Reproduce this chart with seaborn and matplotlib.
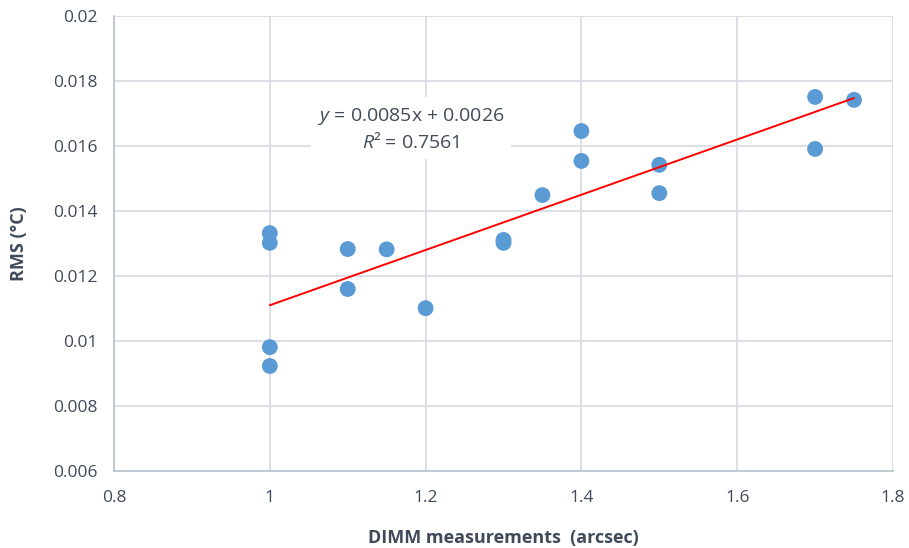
import numpy as np
import matplotlib
matplotlib.use("Agg")
import matplotlib.pyplot as plt
import seaborn as sns
import pandas as pd

dimm = [1.0, 1.0, 1.0, 1.0, 1.1, 1.1, 1.15, 1.2, 1.3, 1.3, 1.35, 1.4, 1.4, 1.5, 1.5, 1.7, 1.7, 1.75]
rms = [0.01332, 0.01302, 0.00981, 0.00923, 0.01283, 0.01160, 0.01282, 0.01101,
       0.01311, 0.01302, 0.01449, 0.01646, 0.01554, 0.01542, 0.01455, 0.01751, 0.01591, 0.01742]
slope = 0.0085
intercept = 0.0026
eq_text = "$y$ = 0.0085x + 0.0026"
r2_text = "$R$² = 0.7561"
xticks = [0.8, 1.0, 1.2, 1.4, 1.6, 1.8]
xticklabels = ["0.8", "1", "1.2", "1.4", "1.6", "1.8"]
yticks = [0.006, 0.008, 0.010, 0.012, 0.014, 0.016, 0.018, 0.020]
yticklabels = ["0.006", "0.008", "0.01", "0.012", "0.014", "0.016", "0.018", "0.02"]

df = pd.DataFrame({"DIMM": dimm, "RMS": rms})

sns.set_theme(style="white")
plt.rcParams["font.family"] = ["Open Sans", "DejaVu Sans"]
plt.rcParams["mathtext.fontset"] = "custom"
plt.rcParams["mathtext.it"] = "Open Sans:italic"
plt.rcParams["mathtext.rm"] = "Open Sans"

txt = "#404a5a"
fig = plt.figure(figsize=(9.09, 5.48), dpi=100)
ax = fig.add_axes([114/909, 1-471/548, (893-114)/909, (471-16)/548])

ax.set_xlim(0.8, 1.8)
ax.set_ylim(0.006, 0.02)
ax.set_xticks(xticks)
ax.set_xticklabels(xticklabels)
ax.set_yticks(yticks)
ax.set_yticklabels(yticklabels)
ax.grid(True, color="#d9dde4", linewidth=1.3)
ax.set_axisbelow(True)
for s in ["top", "right"]:
    ax.spines[s].set_visible(False)
for s in ["left", "bottom"]:
    ax.spines[s].set_color("#b8c2d0")
    ax.spines[s].set_linewidth(1.2)
ax.tick_params(axis="both", length=0, labelsize=12.5, colors=txt, pad=14)
ax.tick_params(axis="y", pad=12)

sns.scatterplot(data=df, x="DIMM", y="RMS", ax=ax, s=130, color="#5b9bd5",
                edgecolor="none", zorder=3)
xl = np.array([min(dimm), max(dimm)])
ax.plot(xl, slope * xl + intercept, color="#ff0000", linewidth=1.4, zorder=4)

t = ax.text(411/100, (548-129)/100, eq_text + "\n" + r2_text, transform=fig.dpi_scale_trans,
            ha="center", va="center", fontsize=14, color=txt, linespacing=1.35,
            bbox=dict(facecolor="white", edgecolor="none", pad=5), zorder=5)

ax.set_xlabel("DIMM measurements  (arcsec)", fontsize=13, fontweight="bold", color=txt, labelpad=16)
ax.set_ylabel("RMS (°C)", fontsize=13, fontweight="bold", color=txt, labelpad=18)

fig.savefig("out.png", dpi=100)
